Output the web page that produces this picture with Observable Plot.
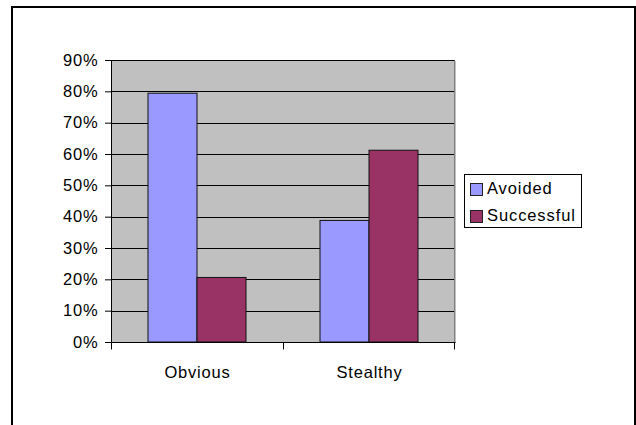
<!DOCTYPE html>
<html>
<head>
<meta charset="utf-8">
<script src="https://cdn.jsdelivr.net/npm/d3@7"></script>
<script src="https://cdn.jsdelivr.net/npm/@observablehq/plot@0.6"></script>
<style>
  html, body { margin: 0; padding: 0; background: #fff; overflow: hidden; }
  #wrap { position: relative; width: 636px; height: 425px; overflow: hidden; font-family: 'Liberation Sans', Arial, sans-serif; }
  #page { position: absolute; left: 11px; top: 6px; width: 625px; height: 500px; border: 2px solid #000; box-sizing: border-box; }
  #chart { position: absolute; left: 0; top: 0; }
  #legend { position: absolute; left: 464px; top: 174px; width: 118px; height: 54px; border: 1px solid #000; box-sizing: border-box; background: #fff; }
  .sw { position: absolute; left: 5px; width: 13px; height: 13px; border: 1px solid #222; box-sizing: border-box; }
  .lt { position: absolute; left: 22px; font-size: 16.5px; line-height: 16px; letter-spacing: 0.9px; color: #000; white-space: nowrap; }
</style>
</head>
<body>
<div id="wrap">
  <div id="page"></div>
  <div id="chart"></div>
  <div id="legend"></div>
</div>
<script>
const categories = ["Obvious", "Stealthy"];
const seriesNames = ["Avoided", "Successful"];
const avoided = [0.794, 0.388];
const successful = [0.206, 0.612];
const seriesColors = ["#9999ff", "#993366"];
const yTicks = [0, 0.1, 0.2, 0.3, 0.4, 0.5, 0.6, 0.7, 0.8, 0.9];

const seriesValues = [avoided, successful];
const rows = [];
categories.forEach((c, i) => {
  seriesNames.forEach((s, j) => rows.push({category: c, series: s, value: seriesValues[j][i]}));
});

const plot = Plot.plot({
  width: 636,
  height: 425,
  marginLeft: 111,
  marginRight: 181,
  marginTop: 60,
  marginBottom: 83,
  style: {fontFamily: "'Liberation Sans', Arial, sans-serif", fontSize: "16.5px", background: "transparent", color: "#000", letterSpacing: "0.8px"},
  facet: {data: rows, x: "category"},
  fx: {domain: categories, padding: 0, axis: "bottom", label: null, tickSize: 0, tickPadding: 24},
  x: {domain: seriesNames, paddingInner: 0, paddingOuter: 0.755, axis: null},
  y: {domain: [0, 0.9], ticks: yTicks, tickFormat: d3.format(".0%"), tickSize: 6, tickPadding: 7, label: null},
  color: {domain: seriesNames, range: seriesColors},
  marks: [
    Plot.frame({fill: "#c0c0c0", shapeRendering: "crispEdges"}),
    Plot.ruleY(yTicks.slice(1), {stroke: "#000", strokeWidth: 1, shapeRendering: "crispEdges"}),
    Plot.barY(rows, {x: "series", y: "value", fill: "series", stroke: "#111", strokeWidth: 1})
  ]
});

document.getElementById("chart").appendChild(plot);

// axis lines, plot-area right border and category boundary ticks, from the scales
(function () {
  const svg = d3.select(plot.tagName.toLowerCase() === "svg" ? plot : plot.querySelector("svg"));
  let yf, left, right, n = categories.length;
  try {
    const ys = plot.scale("y");
    yf = ys.apply ? ys.apply : d3.scaleLinear(ys.domain, ys.range);
  } catch (e) { yf = d3.scaleLinear([0, 0.9], [425 - 83, 60]); }
  try {
    const fs = plot.scale("fx");
    left = Math.min(...fs.range); right = Math.max(...fs.range);
  } catch (e) { left = 111; right = 636 - 181; }
  const c = v => Math.round(v) + 0.5;
  const y0 = c(yf(0)), yT = c(yf(0.9));
  const g = svg.append("g").attr("fill", "none");
  g.append("line").attr("x1", c(right) - 1).attr("x2", c(right) - 1).attr("y1", yT).attr("y2", y0).attr("stroke", "#808080");
  g.append("line").attr("x1", c(left)).attr("x2", c(left)).attr("y1", yT).attr("y2", y0).attr("stroke", "#000");
  g.append("line").attr("x1", c(left)).attr("x2", c(right)).attr("y1", y0).attr("y2", y0).attr("stroke", "#000");
  d3.range(n + 1).forEach(i => {
    const x = c(left + i * (right - left) / n) - (i === n ? 1 : 0);
    g.append("line").attr("x1", x).attr("x2", x).attr("y1", y0).attr("y2", y0 + 7).attr("stroke", "#000");
  });
})();

// legend
const legend = document.getElementById("legend");
seriesNames.forEach((s, i) => {
  const sw = document.createElement("div");
  sw.className = "sw";
  sw.style.top = (8 + i * 27) + "px";
  sw.style.background = seriesColors[i];
  legend.appendChild(sw);
  const t = document.createElement("div");
  t.className = "lt";
  t.style.top = (5 + i * 27) + "px";
  t.textContent = s;
  legend.appendChild(t);
});
</script>
</body>
</html>
